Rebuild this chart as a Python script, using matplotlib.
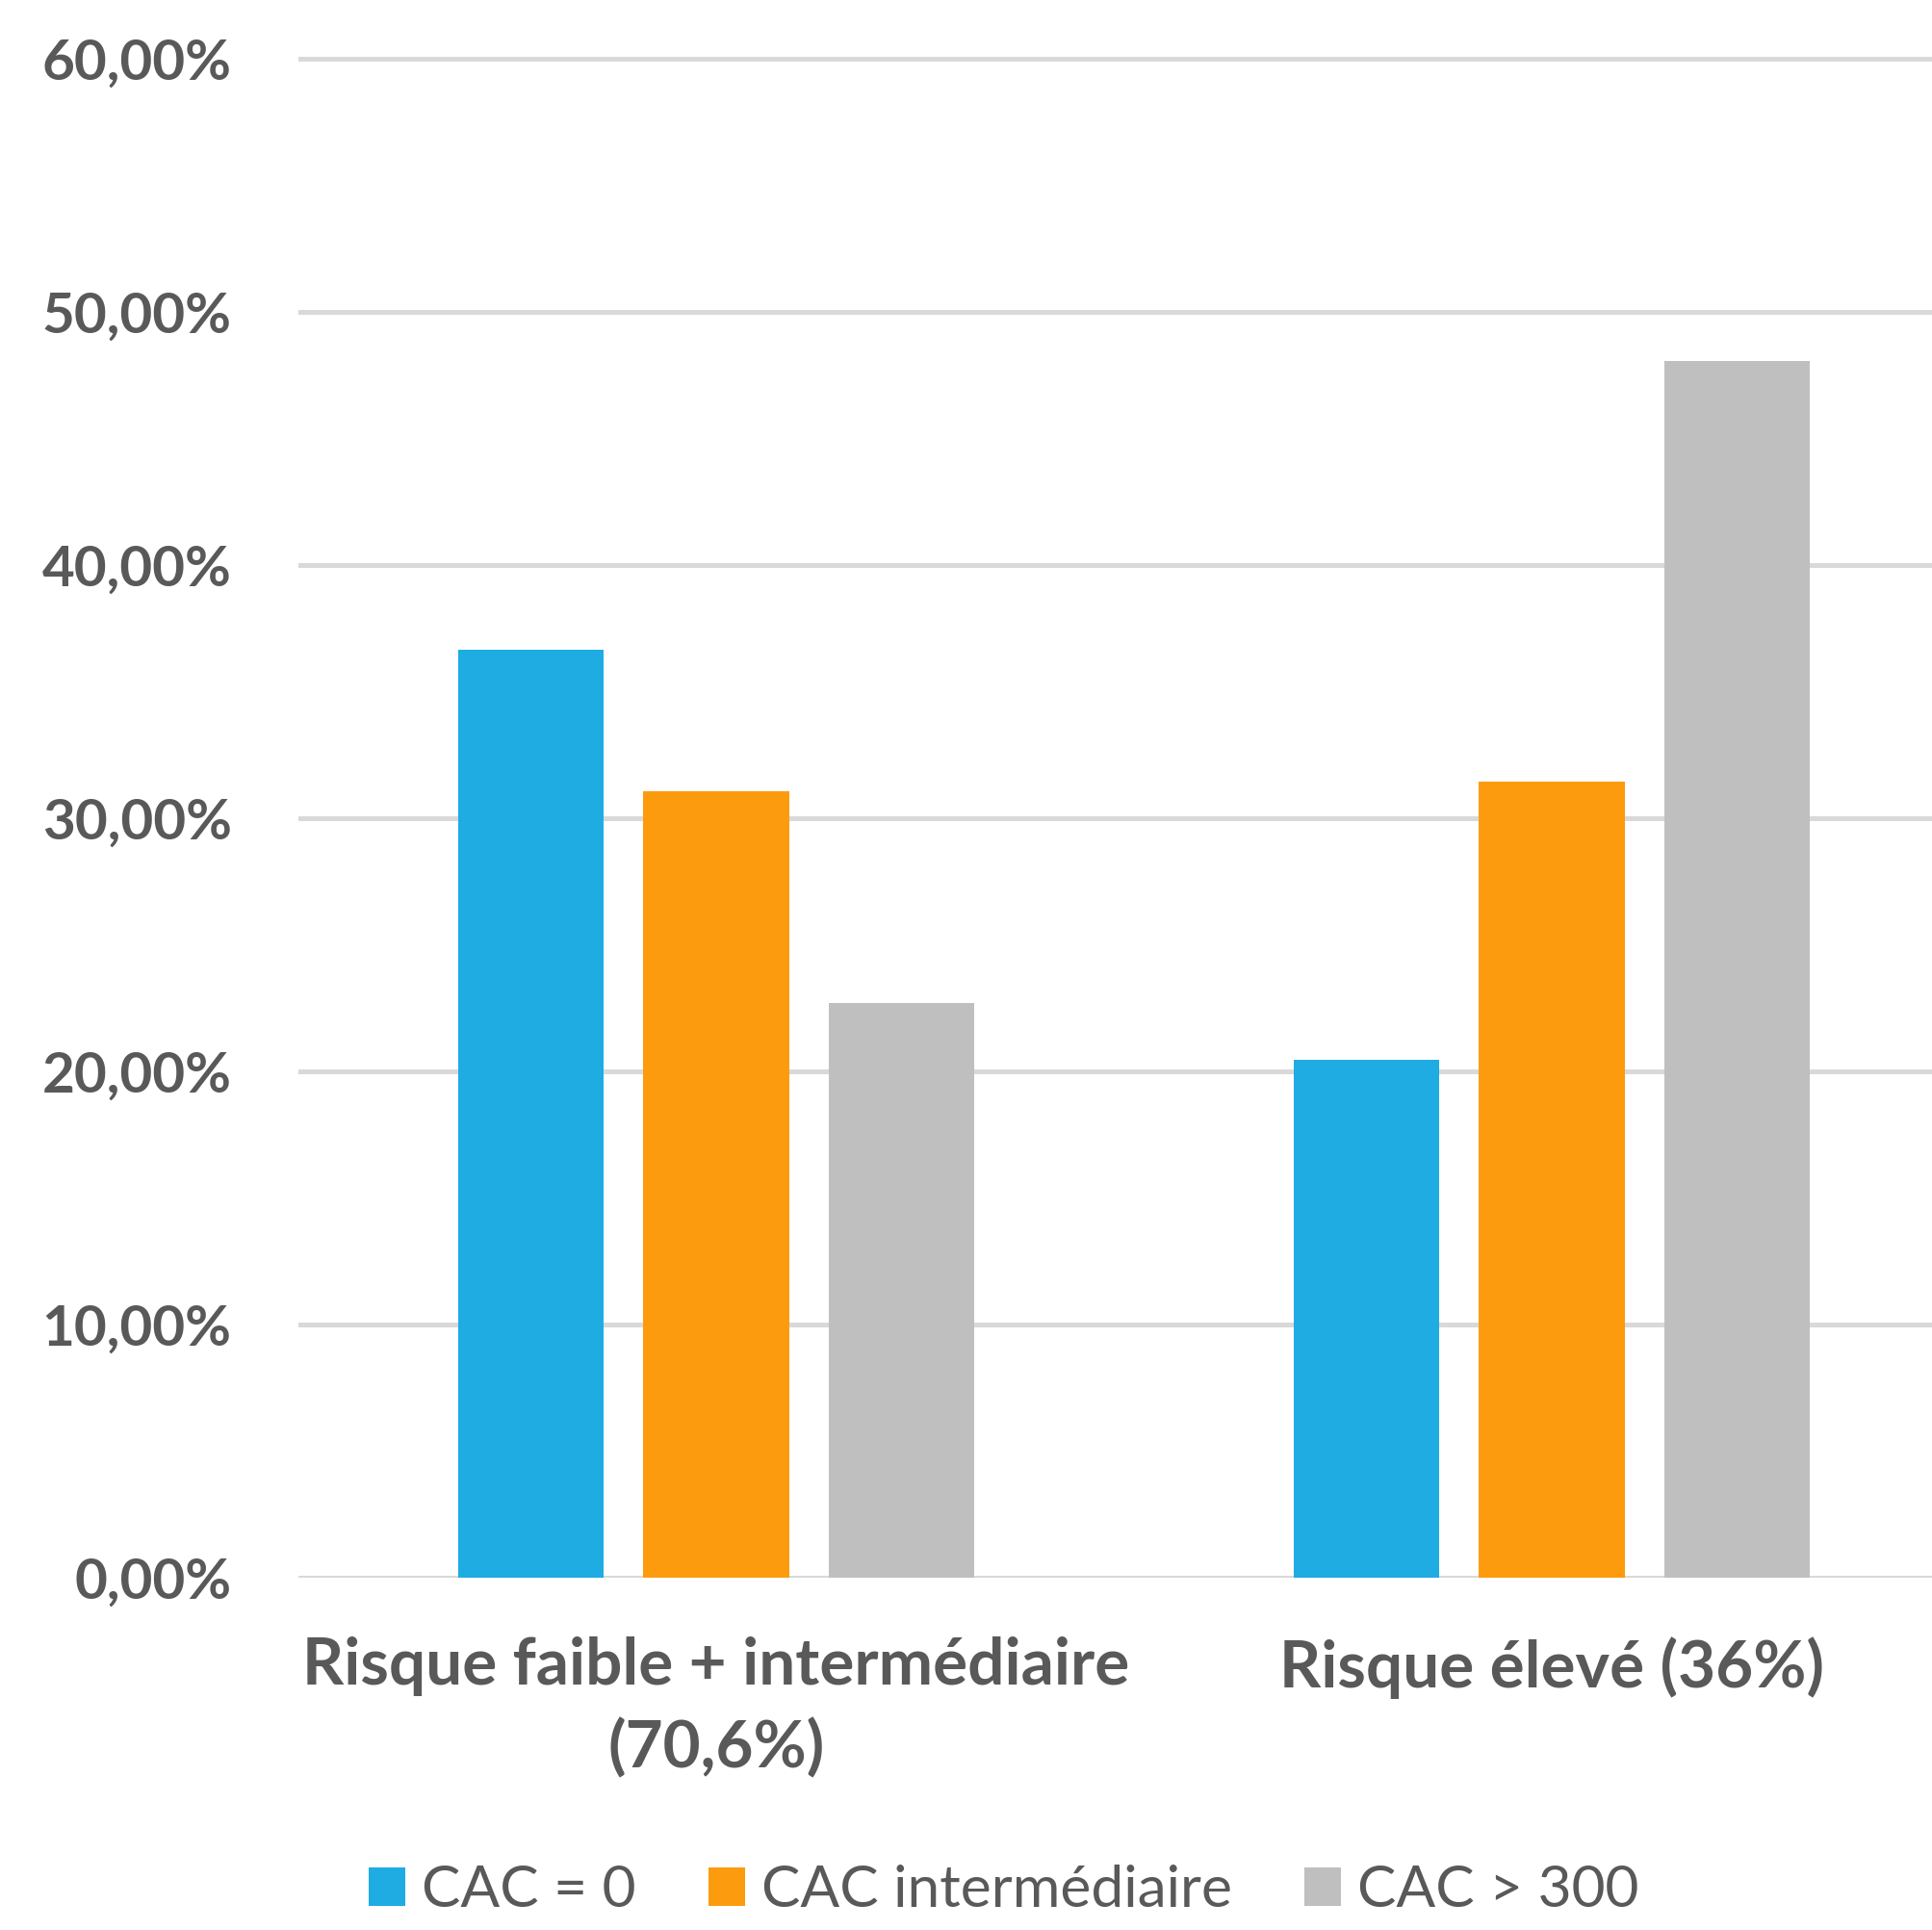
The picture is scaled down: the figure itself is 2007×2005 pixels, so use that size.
import matplotlib.pyplot as plt
from matplotlib.ticker import FuncFormatter

categories = ["Risque faible + intermédiaire\n(70,6%)", "Risque élevé (36%)"]
series = ["CAC = 0", "CAC intermédiaire", "CAC > 300"]
cac_0 = [36.65, 20.45]
cac_inter = [31.05, 31.45]
cac_300 = [22.7, 48.05]
colors = ["#1EACE3", "#FD9B0E", "#BFBFBF"]

text_color = "#595959"
plt.rcParams["font.family"] = ["Lato", "DejaVu Sans"]

fig = plt.figure(figsize=(20.08, 20.05), dpi=100)
ax = fig.add_axes([0.1544, 0.1825, 0.8645, 0.7936])

x = range(len(categories))
width = 0.175
step = 0.2218
for i, (name, vals) in enumerate(zip(series, [cac_0, cac_inter, cac_300])):
    pos = [p + (i - 1) * step for p in x]
    ax.bar(pos, vals, width, color=colors[i], label=name, zorder=3)

ax.set_xlim(-0.5, 1.5)
ax.set_ylim(0, 60.5)
ax.set_yticks(range(0, 61, 10))
ax.yaxis.set_major_formatter(FuncFormatter(lambda v, p: f"{v:.2f}%".replace(".", ",")))
ax.set_xticks(list(x))
ax.set_xticklabels(categories)

ax.grid(axis="y", color="#D9D9D9", linewidth=3.6, zorder=0)
ax.set_axisbelow(True)
for s in ax.spines.values():
    s.set_visible(False)

ax.tick_params(axis="y", length=0, pad=50, labelsize=42, labelcolor=text_color)
ax.tick_params(axis="x", length=0, pad=44, labelsize=48.5, labelcolor=text_color)
for lab in ax.get_yticklabels() + ax.get_xticklabels():
    lab.set_fontweight("bold")
for lab in ax.get_xticklabels():
    lab.set_linespacing(1.45)

leg = fig.legend(loc="center left", bbox_to_anchor=(0.1907, 0.0204), ncol=3,
                 frameon=False, fontsize=43.5, handlelength=0.63, handleheight=0.63,
                 handletextpad=0.28, columnspacing=1.25, borderpad=0, borderaxespad=0)
for t in leg.get_texts():
    t.set_color(text_color)

fig.savefig("out.png", dpi=100)
